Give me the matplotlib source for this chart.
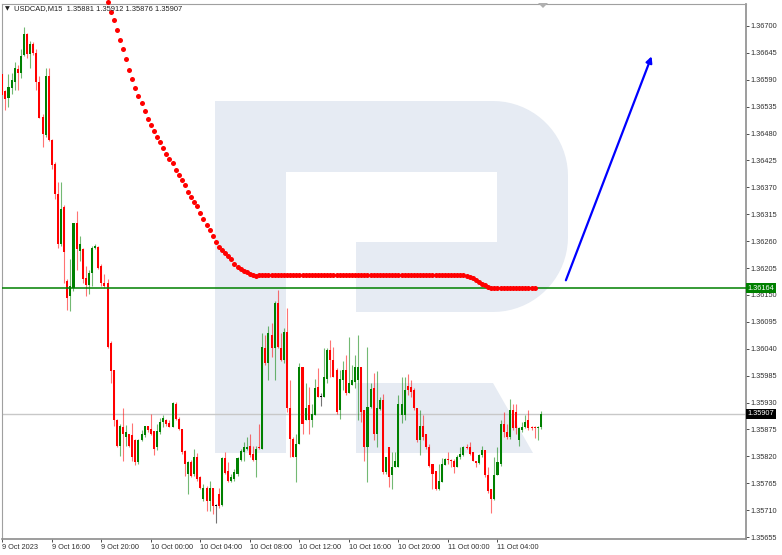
import numpy as np
import matplotlib
matplotlib.use('Agg')
import matplotlib.pyplot as plt
from matplotlib.patches import Polygon
import matplotlib.transforms as mtransforms

plt.rcParams['font.family'] = ['Liberation Sans', 'DejaVu Sans']

# USDCAD M15, bar 0 = 9 Oct 2023 12:00
time_labels = ['9 Oct 2023', '9 Oct 16:00', '9 Oct 20:00', '10 Oct 00:00', '10 Oct 04:00',
               '10 Oct 08:00', '10 Oct 12:00', '10 Oct 16:00', '10 Oct 20:00',
               '11 Oct 00:00', '11 Oct 04:00']
time_bars = [0, 16, 32, 48, 64, 80, 96, 112, 128, 144, 160]

opens = [1.36601, 1.36567, 1.36552, 1.36573, 1.36586, 1.36612, 1.36603, 1.36640, 1.36684, 1.36642,
         1.36663, 1.36645, 1.36586, 1.36514, 1.36477, 1.36597, 1.36466, 1.36417, 1.36357, 1.36254,
         1.36329, 1.36178, 1.36148, 1.36165, 1.36297, 1.36240, 1.36243, 1.36185, 1.36171, 1.36195,
         1.36247, 1.36248, 1.36209, 1.36175, 1.36175, 1.36051, 1.35996, 1.35894, 1.35841, 1.35880,
         1.35859, 1.35865, 1.35863, 1.35854, 1.35808, 1.35854, 1.35863, 1.35883, 1.35875, 1.35872,
         1.35839, 1.35870, 1.35890, 1.35894, 1.35888, 1.35881, 1.35928, 1.35897, 1.35876, 1.35831,
         1.35784, 1.35808, 1.35784, 1.35818, 1.35777, 1.35732, 1.35756, 1.35729, 1.35756, 1.35719,
         1.35743, 1.35721, 1.35816, 1.35791, 1.35770, 1.35774, 1.35784, 1.35813, 1.35828, 1.35835,
         1.35842, 1.35825, 1.35813, 1.35839, 1.35835, 1.36041, 1.36010, 1.36068, 1.36041, 1.36134,
         1.36041, 1.36017, 1.36075, 1.35918, 1.35856, 1.35818, 1.35846, 1.36003, 1.35894, 1.35925,
         1.35894, 1.35904, 1.35962, 1.35942, 1.35942, 1.35979, 1.36038, 1.36017, 1.35996, 1.35914,
         1.35976, 1.35996, 1.35949, 1.35966, 1.35973, 1.35976, 1.36003, 1.35914, 1.35839, 1.35920,
         1.35959, 1.35866, 1.35916, 1.35936, 1.35787, 1.35839, 1.35781, 1.35798, 1.35798, 1.35904,
         1.35904, 1.35964, 1.35962, 1.35955, 1.35918, 1.35853, 1.35883, 1.35866, 1.35839, 1.35805,
         1.35791, 1.35753, 1.35767, 1.35803, 1.35815, 1.35813, 1.35811, 1.35798, 1.35818, 1.35822,
         1.35840, 1.35839, 1.35828, 1.35811, 1.35806, 1.35822, 1.35832, 1.35781, 1.35753, 1.35733,
         1.35781, 1.35805, 1.35887, 1.35870, 1.35859, 1.35914, 1.35911, 1.35853, 1.35873, 1.35880,
         1.35894, 1.35881, 1.35881, 1.35877, 1.35881]
highs = [1.36603, 1.36569, 1.36601, 1.36603, 1.36627, 1.36621, 1.36652, 1.36697, 1.36686, 1.36670,
         1.36667, 1.36652, 1.36597, 1.36521, 1.36615, 1.36615, 1.36468, 1.36422, 1.36381, 1.36381,
         1.36333, 1.36182, 1.36223, 1.36298, 1.36322, 1.36271, 1.36247, 1.36209, 1.36202, 1.36250,
         1.36254, 1.36250, 1.36213, 1.36192, 1.36182, 1.36055, 1.35996, 1.35897, 1.35887, 1.35919,
         1.35885, 1.35866, 1.35888, 1.35855, 1.35856, 1.35873, 1.35883, 1.35883, 1.35907, 1.35872,
         1.35887, 1.35899, 1.35904, 1.35897, 1.35894, 1.35931, 1.35931, 1.35900, 1.35876, 1.35833,
         1.35811, 1.35813, 1.35835, 1.35826, 1.35780, 1.35763, 1.35760, 1.35770, 1.35756, 1.35722,
         1.35756, 1.35818, 1.35828, 1.35808, 1.35784, 1.35794, 1.35818, 1.35835, 1.35849, 1.35859,
         1.35865, 1.35842, 1.35842, 1.35887, 1.36072, 1.36068, 1.36086, 1.36092, 1.36137, 1.36161,
         1.36072, 1.36082, 1.36123, 1.35976, 1.35860, 1.35866, 1.36010, 1.36003, 1.35969, 1.35962,
         1.35928, 1.35979, 1.36000, 1.35949, 1.36041, 1.36041, 1.36058, 1.36044, 1.36000, 1.35996,
         1.36014, 1.36027, 1.36065, 1.36007, 1.36027, 1.36069, 1.36003, 1.35914, 1.36044, 1.35969,
         1.35991, 1.35995, 1.35942, 1.35947, 1.35818, 1.35839, 1.35828, 1.35828, 1.35945, 1.35983,
         1.35983, 1.35988, 1.35976, 1.35959, 1.35918, 1.35914, 1.35904, 1.35866, 1.35846, 1.35805,
         1.35791, 1.35805, 1.35817, 1.35817, 1.35828, 1.35815, 1.35815, 1.35822, 1.35839, 1.35841,
         1.35846, 1.35849, 1.35828, 1.35811, 1.35825, 1.35841, 1.35832, 1.35798, 1.35753, 1.35818,
         1.35839, 1.35894, 1.35911, 1.35887, 1.35938, 1.35928, 1.35928, 1.35880, 1.35890, 1.35904,
         1.35914, 1.35883, 1.35883, 1.35883, 1.35912]
lows = [1.36552, 1.36528, 1.36535, 1.36560, 1.36569, 1.36569, 1.36593, 1.36638, 1.36634, 1.36615,
        1.36641, 1.36569, 1.36511, 1.36453, 1.36473, 1.36465, 1.36408, 1.36346, 1.36247, 1.36250,
        1.36175, 1.36120, 1.36117, 1.36158, 1.36202, 1.36219, 1.36175, 1.36148, 1.36151, 1.36168,
        1.36243, 1.36204, 1.36168, 1.36165, 1.36041, 1.35969, 1.35882, 1.35839, 1.35820, 1.35811,
        1.35842, 1.35839, 1.35811, 1.35803, 1.35804, 1.35852, 1.35859, 1.35870, 1.35863, 1.35822,
        1.35832, 1.35866, 1.35880, 1.35883, 1.35879, 1.35880, 1.35894, 1.35873, 1.35825, 1.35780,
        1.35743, 1.35777, 1.35780, 1.35770, 1.35753, 1.35729, 1.35708, 1.35708, 1.35702, 1.35684,
        1.35715, 1.35719, 1.35784, 1.35767, 1.35767, 1.35770, 1.35780, 1.35811, 1.35811, 1.35832,
        1.35818, 1.35811, 1.35777, 1.35835, 1.35835, 1.36007, 1.35976, 1.36024, 1.35977, 1.36041,
        1.36014, 1.36010, 1.35911, 1.35818, 1.35818, 1.35767, 1.35846, 1.35866, 1.35894, 1.35866,
        1.35880, 1.35904, 1.35942, 1.35922, 1.35942, 1.35969, 1.35983, 1.35983, 1.35907, 1.35897,
        1.35955, 1.35945, 1.35949, 1.35966, 1.35959, 1.35894, 1.35890, 1.35811, 1.35767, 1.35918,
        1.35853, 1.35839, 1.35914, 1.35784, 1.35784, 1.35757, 1.35753, 1.35798, 1.35798, 1.35888,
        1.35894, 1.35945, 1.35942, 1.35914, 1.35849, 1.35822, 1.35853, 1.35835, 1.35798, 1.35753,
        1.35751, 1.35751, 1.35767, 1.35803, 1.35805, 1.35798, 1.35786, 1.35798, 1.35815, 1.35820,
        1.35835, 1.35822, 1.35810, 1.35798, 1.35805, 1.35818, 1.35777, 1.35746, 1.35705, 1.35731,
        1.35781, 1.35801, 1.35859, 1.35856, 1.35856, 1.35873, 1.35866, 1.35842, 1.35870, 1.35877,
        1.35873, 1.35873, 1.35858, 1.35853, 1.35876]
closes = [1.36559, 1.36551, 1.36576, 1.36590, 1.36614, 1.36603, 1.36638, 1.36684, 1.36642, 1.36663,
          1.36645, 1.36586, 1.36512, 1.36480, 1.36597, 1.36466, 1.36415, 1.36357, 1.36254, 1.36326,
          1.36237, 1.36144, 1.36168, 1.36298, 1.36243, 1.36254, 1.36182, 1.36171, 1.36194, 1.36247,
          1.36250, 1.36206, 1.36175, 1.36168, 1.36044, 1.35995, 1.35894, 1.35841, 1.35883, 1.35865,
          1.35870, 1.35842, 1.35818, 1.35808, 1.35854, 1.35865, 1.35883, 1.35873, 1.35866, 1.35835,
          1.35872, 1.35890, 1.35899, 1.35887, 1.35880, 1.35929, 1.35897, 1.35876, 1.35828, 1.35804,
          1.35808, 1.35780, 1.35818, 1.35774, 1.35756, 1.35756, 1.35729, 1.35756, 1.35719, 1.35719,
          1.35719, 1.35816, 1.35785, 1.35770, 1.35777, 1.35787, 1.35817, 1.35831, 1.35839, 1.35839,
          1.35822, 1.35813, 1.35835, 1.35837, 1.36044, 1.36010, 1.36072, 1.36041, 1.36134, 1.36044,
          1.36017, 1.36075, 1.35918, 1.35856, 1.35818, 1.35846, 1.36003, 1.35887, 1.35918, 1.35894,
          1.35907, 1.35959, 1.35942, 1.35942, 1.35983, 1.36038, 1.36017, 1.35983, 1.35911, 1.35979,
          1.35996, 1.35949, 1.35969, 1.35976, 1.36003, 1.36003, 1.35911, 1.35839, 1.35920, 1.35957,
          1.35866, 1.35918, 1.35936, 1.35787, 1.35818, 1.35777, 1.35798, 1.35811, 1.35928, 1.35928,
          1.35955, 1.35955, 1.35952, 1.35918, 1.35853, 1.35883, 1.35859, 1.35839, 1.35800, 1.35784,
          1.35753, 1.35770, 1.35805, 1.35815, 1.35813, 1.35810, 1.35798, 1.35818, 1.35824, 1.35840,
          1.35837, 1.35825, 1.35811, 1.35806, 1.35822, 1.35832, 1.35781, 1.35750, 1.35733, 1.35781,
          1.35808, 1.35887, 1.35870, 1.35859, 1.35914, 1.35877, 1.35877, 1.35877, 1.35880, 1.35890,
          1.35878, 1.35877, 1.35877, 1.35881, 1.35907]

# red dotted indicator, first dot sits on bar 34
dots_start = 34
dots = [1.36749, 1.36729, 1.36713, 1.36691, 1.36671, 1.36653, 1.36632, 1.36610, 1.36592, 1.36574,
        1.36557, 1.36542, 1.36526, 1.36510, 1.36497, 1.36485, 1.36474, 1.36463, 1.36450, 1.36438,
        1.36428, 1.36419, 1.36406, 1.36396, 1.36385, 1.36374, 1.36361, 1.36350, 1.36341, 1.36332,
        1.36318, 1.36306, 1.36293, 1.36282, 1.36270, 1.36259, 1.36249, 1.36242, 1.36235, 1.36230,
        1.36223, 1.36214, 1.36208, 1.36204, 1.36200, 1.36196, 1.36193, 1.36190,
        1.36189, 1.36190, 1.36190, 1.36190, 1.36190, 1.36190, 1.36190, 1.36190, 1.36190, 1.36190,
        1.36190, 1.36190, 1.36190, 1.36190, 1.36190, 1.36190, 1.36190, 1.36190, 1.36190, 1.36190,
        1.36190, 1.36190, 1.36190, 1.36190, 1.36190, 1.36190, 1.36190, 1.36190, 1.36190, 1.36190,
        1.36190, 1.36190, 1.36190, 1.36190, 1.36190, 1.36190, 1.36190, 1.36190, 1.36190, 1.36190,
        1.36190, 1.36190, 1.36190, 1.36190, 1.36190, 1.36190, 1.36190, 1.36190, 1.36190, 1.36190,
        1.36190, 1.36190, 1.36190, 1.36190, 1.36190, 1.36190, 1.36190, 1.36190, 1.36190, 1.36190,
        1.36190, 1.36190, 1.36190, 1.36190, 1.36190, 1.36190, 1.36190, 1.36190,
        1.36188, 1.36186, 1.36184, 1.36180, 1.36176, 1.36173, 1.36170, 1.36167, 1.36165, 1.36164,
        1.36164, 1.36164, 1.36164, 1.36164, 1.36164, 1.36164, 1.36164, 1.36164, 1.36164, 1.36164,
        1.36164, 1.36164, 1.36164]

level = 1.36164
last_price = 1.35907
arrow_start = (182.1, 1.36180)
arrow_end = (209.8, 1.36638)
price_ticks = [1.36700, 1.36645, 1.36590, 1.36535, 1.36480, 1.36425, 1.36370, 1.36315, 1.36260,
               1.36205, 1.36150, 1.36095, 1.36040, 1.35985, 1.35930, 1.35875, 1.35820, 1.35765,
               1.35710, 1.35655]
title = 'USDCAD,M15  1.35881 1.35912 1.35876 1.35907'

W, H = 782, 555
fig = plt.figure(figsize=(W / 100, H / 100), dpi=100)
ax = fig.add_axes([1.5 / W, 1 - 539 / H, (746 - 1.5) / W, (539 - 3.5) / H])
ax.set_xlim(-0.26, 240.3)
ax.set_ylim(1.35651, 1.36746)


def px(points):
    return [(x / W, 1 - y / H) for x, y in points]


# watermark logo (pixel coords, y down)
wm = '#E6EBF3'
ax.add_patch(Polygon(px([(215, 101), (286, 101), (286, 453), (215, 453)]), closed=True,
                     transform=fig.transFigure, facecolor=wm, edgecolor='none', zorder=0))
t1 = np.linspace(-np.pi / 2, 0, 20)
t2 = np.linspace(0, np.pi / 2, 20)
bowl = [(286, 101), (493, 101)]
bowl += [(493 + 75 * np.cos(t), 176 + 75 * np.sin(t)) for t in t1]
bowl += [(568, 233)]
bowl += [(493 + 75 * np.cos(t), 237 + 75 * np.sin(t)) for t in t2]
bowl += [(356, 312), (356, 242), (497, 242), (497, 172), (286, 172)]
ax.add_patch(Polygon(px(bowl), closed=True, transform=fig.transFigure,
                     facecolor=wm, edgecolor='none', zorder=0))
ax.add_patch(Polygon(px([(356, 383), (493, 383), (533, 453), (356, 453)]), closed=True,
                     transform=fig.transFigure, facecolor=wm, edgecolor='none', zorder=0))

ax.axhline(last_price, color='#C8C8C8', lw=1.0, zorder=1)

x = np.arange(len(opens))
o = np.array(opens)
h = np.array(highs)
l = np.array(lows)
c = np.array(closes)
colors = np.where(c > o, '#008000', np.where(c < o, '#FF0000', '#000000'))
ax.vlines(x, l, h, colors=colors, lw=0.8, alpha=0.55, zorder=2)
body = np.maximum(np.abs(c - o), 0.000022)
ax.bar(x, body, bottom=np.minimum(o, c), width=0.66, color=colors, linewidth=0, zorder=3)

ax.axhline(level, color='#008000', lw=1.1, zorder=4)

ax.scatter(np.arange(dots_start, dots_start + len(dots)), dots, s=13, color='#FF0000',
           linewidths=0, zorder=5, clip_on=False)

ax.annotate('', xy=arrow_end, xytext=arrow_start,
            arrowprops=dict(arrowstyle='-|>', color='#0000FF', lw=1.6, mutation_scale=9,
                            shrinkA=0, shrinkB=0), zorder=6)

# axes styling
for s in ['top', 'left']:
    ax.spines[s].set_color('#A0A0A0')
    ax.spines[s].set_linewidth(0.8)
for s in ['bottom', 'right']:
    ax.spines[s].set_color('#8C8C8C')
    ax.spines[s].set_linewidth(1.2)

ax.yaxis.tick_right()
ax.set_yticks(price_ticks)
ax.set_yticklabels(['%.5f' % p for p in price_ticks])
ax.tick_params(axis='y', length=2, width=0.6, pad=1.5, labelsize=5.3, colors='#303030')
ax.set_xticks(time_bars)
ax.set_xticklabels(time_labels)
ax.tick_params(axis='x', length=2.5, width=0.6, pad=1, labelsize=5.3, colors='#303030')
for lab in ax.get_xticklabels():
    lab.set_horizontalalignment('left')

blend = mtransforms.blended_transform_factory(ax.transAxes, ax.transData)
ax.text(1.002, level, '%.5f' % level, transform=blend, ha='left', va='center', fontsize=5.3,
        color='white', bbox=dict(facecolor='#008000', edgecolor='none', pad=1.0), zorder=7)
ax.text(1.002, last_price, '%.5f' % last_price, transform=blend, ha='left', va='center',
        fontsize=5.3, color='white', bbox=dict(facecolor='#000000', edgecolor='none', pad=1.0),
        zorder=7)

fig.text(5 / W, 1 - 9 / H, '\u25bc', fontsize=4.5, color='#202020', va='center',
         family=['DejaVu Sans'])
fig.text(14 / W, 1 - 9 / H, title, fontsize=5.4, color='#202020', va='center')
fig.patches.append(Polygon(px([(538, 3), (548, 3), (543, 8)]), closed=True,
                           transform=fig.transFigure, facecolor='#B0B0B0', edgecolor='none'))

fig.savefig('out.png', dpi=100)
